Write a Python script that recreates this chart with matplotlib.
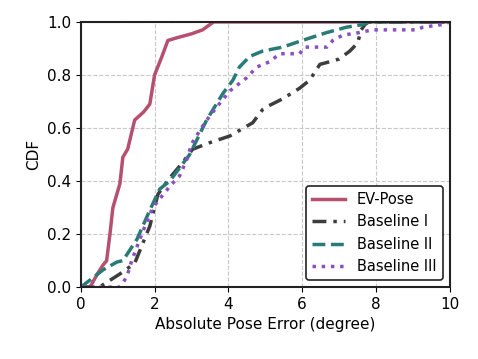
import numpy as np
import matplotlib.pyplot as plt

# данные CDF
ev_x = [0, 0.25, 0.45, 0.6, 0.7, 0.79, 0.87, 1.06, 1.14, 1.27, 1.46, 1.7, 1.87, 2.0, 2.2, 2.36, 2.6, 3.0, 3.3, 3.5, 3.6, 10]
ev_y = [0, 0, 0.05, 0.083, 0.1, 0.2, 0.3, 0.39, 0.49, 0.52, 0.63, 0.66, 0.69, 0.8, 0.87, 0.93, 0.94, 0.955, 0.97, 0.99, 1.0, 1.0]

b1_x = [0, 0.5, 1.06, 1.46, 1.87, 2.09, 2.4, 2.76, 3.03, 3.5, 4.04, 4.66, 4.93, 5.04, 5.47, 5.93, 6.2, 6.48, 6.75, 7.0, 7.29, 7.5, 7.6, 7.7, 7.8, 10]
b1_y = [0, 0, 0.05, 0.09, 0.23, 0.35, 0.41, 0.47, 0.52, 0.545, 0.57, 0.62, 0.67, 0.68, 0.71, 0.75, 0.78, 0.84, 0.85, 0.86, 0.89, 0.92, 0.97, 0.99, 1.0, 1.0]

b2_x = [0, 0.6, 0.98, 1.14, 1.52, 1.87, 2.14, 2.41, 2.95, 3.41, 3.85, 4.12, 4.3, 4.58, 4.93, 5.47, 6.0, 6.67, 7.2, 7.65, 7.8, 10]
b2_y = [0, 0.065, 0.095, 0.1, 0.18, 0.29, 0.37, 0.40, 0.5, 0.63, 0.73, 0.78, 0.83, 0.87, 0.89, 0.905, 0.93, 0.96, 0.98, 0.99, 1.0, 1.0]

b3_x = [0, 0.6, 1.06, 1.25, 1.38, 1.68, 1.95, 2.41, 2.68, 2.9, 3.0, 3.36, 3.69, 4.04, 4.5, 4.77, 5.12, 5.39, 5.93, 6.07, 6.67, 6.83, 7.1, 7.56, 7.9, 9.1, 9.27, 9.8, 10]
b3_y = [0, 0, 0, 0.04, 0.1, 0.21, 0.3, 0.38, 0.42, 0.49, 0.54, 0.62, 0.68, 0.74, 0.79, 0.83, 0.85, 0.88, 0.88, 0.905, 0.905, 0.93, 0.95, 0.96, 0.97, 0.97, 0.98, 0.99, 1.0]

fig = plt.figure(figsize=(4.78, 3.59), dpi=100)
ax = fig.add_axes([0.169, 0.2, 0.772, 0.739])

lw = 2.5
ax.plot(ev_x, ev_y, color='#b5506e', linewidth=lw, linestyle='-', label='EV-Pose')
ax.plot(b1_x, b1_y, color='#3d3d3d', linewidth=lw, linestyle=(0, (4, 2, 1, 2)), label='Baseline I')
ax.plot(b2_x, b2_y, color='#2a7a78', linewidth=lw, linestyle='--', label='Baseline II')
ax.plot(b3_x, b3_y, color='#8a4fc0', linewidth=lw, linestyle=':', label='Baseline III')

ax.set_xlim(0, 10)
ax.set_ylim(0, 1.0)
ax.set_xticks(np.arange(0, 11, 2))
ax.set_yticks(np.arange(0, 1.01, 0.2))
ax.tick_params(labelsize=11)
ax.set_xlabel('Absolute Pose Error (degree)', fontsize=11)
ax.set_ylabel('CDF', fontsize=11)
ax.grid(color='#c8c8c8', linestyle='--', linewidth=0.8)
for s in ax.spines.values():
    s.set_color('#222222')
    s.set_linewidth(1.5)

leg = ax.legend(loc='lower right', fontsize=10.5, framealpha=1, edgecolor='#222222',
                handlelength=2.3)
leg.get_frame().set_linewidth(1.2)

fig.savefig('out.png')
